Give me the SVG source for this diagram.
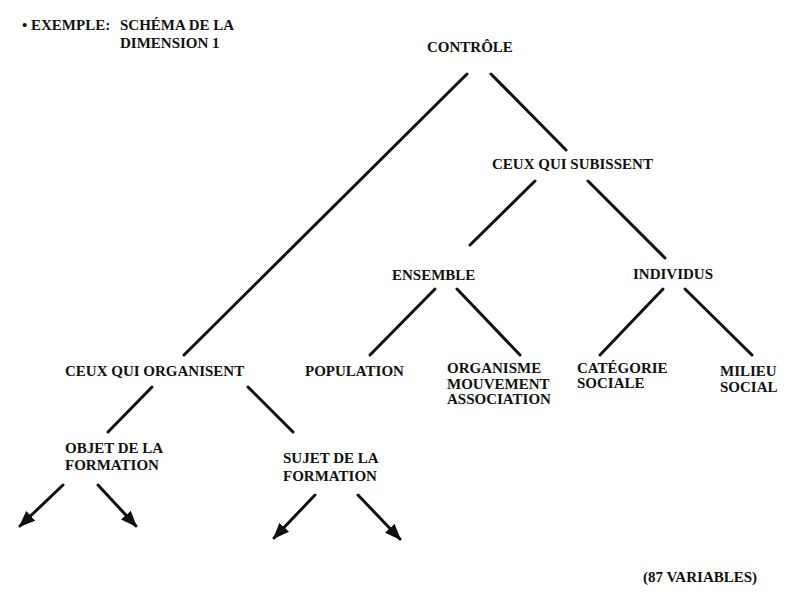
<svg xmlns="http://www.w3.org/2000/svg" width="792" height="597" viewBox="0 0 792 597">
<style>
text{font-family:"Liberation Serif","Times New Roman",serif;font-weight:bold;font-size:15px;fill:#111}
.ln{stroke:#111;stroke-width:3;stroke-linecap:round;fill:none}
</style>
<defs>
<marker id="ah" viewBox="0 0 10 8" refX="9" refY="4" markerWidth="5.5" markerHeight="4.4" orient="auto" markerUnits="strokeWidth">
<path d="M0,0 L10,4 L0,8 Z" fill="#111"/>
</marker>
</defs>
<rect width="792" height="597" fill="#fff"/>
<g id="title">
<text x="22" y="30">• EXEMPLE:</text>
<text x="120" y="30">SCHÉMA DE LA</text>
<text x="120" y="48">DIMENSION 1</text>
</g>
<g id="controle"><text x="427" y="52">CONTRÔLE</text></g>
<g id="subissent"><text x="492" y="169">CEUX QUI SUBISSENT</text></g>
<g id="ensemble"><text x="392" y="280">ENSEMBLE</text></g>
<g id="individus"><text x="633" y="279">INDIVIDUS</text></g>
<g id="organisent"><text x="65" y="376">CEUX QUI ORGANISENT</text></g>
<g id="population"><text x="305" y="376">POPULATION</text></g>
<g id="organisme">
<text x="447" y="373">ORGANISME</text>
<text x="447" y="389">MOUVEMENT</text>
<text x="447" y="404">ASSOCIATION</text>
</g>
<g id="categorie">
<text x="577" y="373">CATÉGORIE</text>
<text x="577" y="388">SOCIALE</text>
</g>
<g id="milieu">
<text x="720" y="376">MILIEU</text>
<text x="720" y="392">SOCIAL</text>
</g>
<g id="objet">
<text x="65" y="453">OBJET DE LA</text>
<text x="65" y="470">FORMATION</text>
</g>
<g id="sujet">
<text x="283" y="463">SUJET DE LA</text>
<text x="283" y="481">FORMATION</text>
</g>
<g id="variables"><text x="643" y="582">(87 VARIABLES)</text></g>
<g id="connectors">
<line class="ln" x1="467" y1="74" x2="184" y2="355"/>
<line class="ln" x1="491" y1="74" x2="566" y2="150"/>
<line class="ln" x1="535" y1="181" x2="470" y2="245"/>
<line class="ln" x1="588" y1="181" x2="665" y2="258"/>
<line class="ln" x1="435" y1="289" x2="370" y2="355"/>
<line class="ln" x1="457" y1="289" x2="520" y2="355"/>
<line class="ln" x1="663" y1="289" x2="600" y2="355"/>
<line class="ln" x1="685" y1="289" x2="752" y2="355"/>
<line class="ln" x1="152" y1="387" x2="108" y2="432"/>
<line class="ln" x1="248" y1="387" x2="293" y2="432"/>
<line class="ln" x1="63" y1="485" x2="20" y2="526" marker-end="url(#ah)"/>
<line class="ln" x1="98" y1="485" x2="136" y2="526" marker-end="url(#ah)"/>
<line class="ln" x1="315" y1="495" x2="274" y2="538" marker-end="url(#ah)"/>
<line class="ln" x1="358" y1="495" x2="400" y2="539" marker-end="url(#ah)"/>
</g>
</svg>
